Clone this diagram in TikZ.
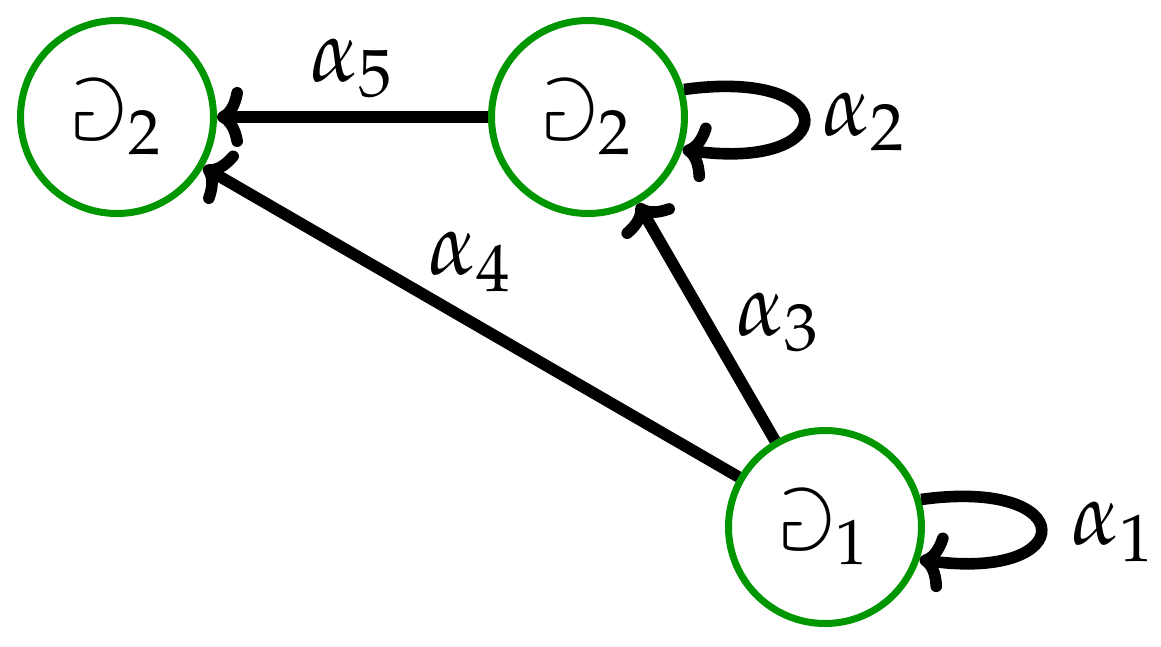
\documentclass[tikz,border=0pt]{standalone}
\usepackage{mathpazo}
\usepackage{amssymb}
\usetikzlibrary{arrows.meta}
\definecolor{stategreen}{RGB}{0,150,0}
\begin{document}
\begin{tikzpicture}[x=0.25pt,y=-0.25pt,
  state/.style={circle,draw=stategreen,line width=1.75pt,inner sep=0pt,minimum size=48.25pt,font=\fontsize{21}{25}\selectfont},
  arr/.style={line width=2.9pt,-{To[length=6.5pt,width=15pt,round]}},
  lab/.style={font=\fontsize{22}{26}\selectfont,inner sep=0pt}]
\useasboundingbox (0,0) rectangle (1161,646);
\node[state] (A) at (117,117) {$\Game_2$};
\node[state] (B) at (588,117) {$\Game_2$};
\node[state] (C) at (825,527) {$\Game_1$};
\draw[arr] (B) -- (A);
\draw[arr] (C) -- (B);
\draw[arr] (C) -- (A);
\draw[arr] (B.16) .. controls +(160,-22) and +(160,22) .. (B.-19);
\draw[arr] (C.16) .. controls +(160,-22) and +(160,22) .. (C.-19);
\node[lab] (l5) at (352,68) {$\alpha_5$};
\node[lab] (l2) at (864,122) {$\alpha_2$};
\node[lab] (l4) at (470,262) {$\alpha_4$};
\node[lab] (l3) at (778,322) {$\alpha_3$};
\node[lab] (l1) at (1113,532) {$\alpha_1$};
\end{tikzpicture}
\end{document}
